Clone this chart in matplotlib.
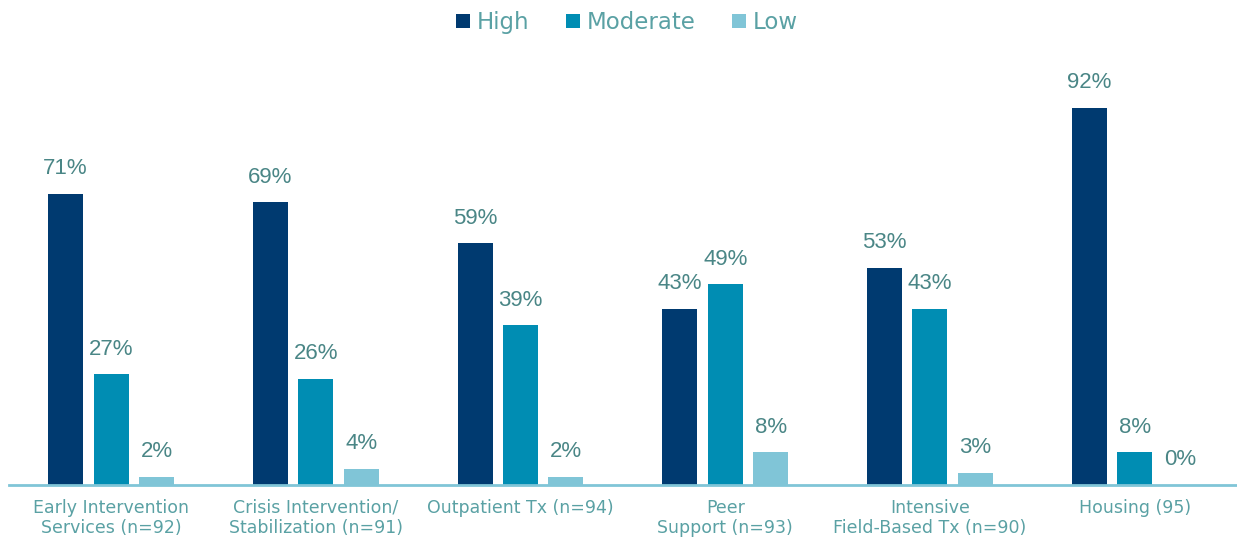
import matplotlib.pyplot as plt
import numpy as np

categories = ["Early Intervention\nServices (n=92)", "Crisis Intervention/\nStabilization (n=91)",
              "Outpatient Tx (n=94)", "Peer\nSupport (n=93)", "Intensive\nField-Based Tx (n=90)",
              "Housing (95)"]
series_names = ["High", "Moderate", "Low"]
high = [71, 69, 59, 43, 53, 92]
moderate = [27, 26, 39, 49, 43, 8]
low = [2, 4, 2, 8, 3, 0]

colors = ["#003a70", "#008db3", "#80c5d7"]
value_color = "#4a8686"
label_color = "#5aa1a4"

fig = plt.figure(figsize=(12.37, 5.41), dpi=100)
ax = fig.add_axes([0.007, 0.1035, 0.993, 0.757])

x = np.arange(len(categories))
width = 0.171
step = 0.222
for i, (name, vals) in enumerate(zip(series_names, [high, moderate, low])):
    pos = x + (i - 1) * step
    ax.bar(pos, vals, width=width, color=colors[i], label=name)
    for p, v in zip(pos, vals):
        ax.text(p, v + 3.6, f"{v}%", ha="center", va="bottom", fontsize=16,
                color=value_color, family="Liberation Sans")

ax.set_xlim(-0.5, len(categories) - 0.5)
ax.set_ylim(0, 100)
ax.set_yticks([])
ax.set_xticks(x)
ax.set_xticklabels(categories, fontsize=12.5, color=label_color, family="DejaVu Sans",
                   linespacing=1.15)
ax.tick_params(axis="x", length=0, pad=10)
for s in ["top", "right", "left"]:
    ax.spines[s].set_visible(False)
ax.spines["bottom"].set_color("#80c5d7")
ax.spines["bottom"].set_linewidth(2)

leg = fig.legend(loc="upper center", bbox_to_anchor=(0.507, 1.018), ncol=3, frameon=False,
                 fontsize=16.5, handlelength=0.6, handleheight=0.6, handletextpad=0.3,
                 columnspacing=1.6)
for t in leg.get_texts():
    t.set_color(label_color)

fig.savefig("out.png", dpi=100)
